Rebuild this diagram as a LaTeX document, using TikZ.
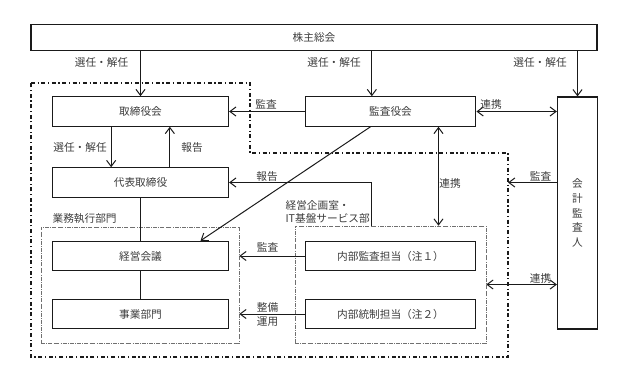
\documentclass[tikz,border=0pt]{standalone}
\usepackage{fontspec}
\setmainfont{Noto Sans CJK JP}
\usepackage{xcolor}
\definecolor{ink}{HTML}{1A1A1A}
\definecolor{grpgray}{HTML}{707070}
\usepackage{tikz}
\usetikzlibrary{arrows.meta,positioning}
\tikzset{>={Straight Barb[length=1.6mm,width=2.4mm]},
  box/.style={draw=ink,line width=0.9pt,minimum width=132pt,minimum height=22pt,inner sep=0pt,
    font=\fontsize{8}{10}\selectfont,text=ink!85},
  rbox/.style={box,minimum width=128pt},
  grp/.style={draw=grpgray,thin,densely dash dot,inner sep=0pt},
  outer/.style={draw=ink,thick,dash dot},
  flow/.style={->,line width=0.75pt,ink},
  link/.style={<->,line width=0.75pt,ink},
  lbl/.style={font=\fontsize{8}{10}\selectfont,text=ink!85,inner sep=1pt,align=left}}
\begin{document}
\begin{tikzpicture}[x=0.75pt,y=-0.75pt]
  \useasboundingbox (0,0) rectangle (620,375);
  % boxes
  \node[box,minimum width=424.5pt,minimum height=19.5pt] (kabu) at (314,37.5) {株主総会};
  \node[box] (tori) at (140.5,111.5) {取締役会};
  \node[rbox] (kansa) at (390.5,111.5) {監査役会};
  \node[box] (daihyo) at (140.5,182.5) {代表取締役};
  \node[box] (keiei) at (140.5,256) {経営会議};
  \node[box] (jigyo) at (140.5,314) {事業部門};
  \node[rbox] (naibu) at (390.5,256) {内部監査担当（注１）};
  \node[rbox] (tosei) at (390.5,314) {内部統制担当（注２）};
  \node[box,minimum width=30pt,minimum height=174pt,align=center,
    font=\fontsize{8}{11}\selectfont] (kaikei) at (577.5,213) {会\\計\\監\\査\\人};
  % groups
  \node[grp,minimum width=148.5pt,minimum height=87pt] (exec) at (140,285) {};
  \node[grp,minimum width=143.25pt,minimum height=87.75pt] (plan) at (390.5,284.5) {};
  \draw[outer] (31,83) -- (250,83) -- (250,153) -- (508,153) -- (508,357) -- (31,357) -- cycle;
  \coordinate (outerR) at (508,182.5);
  \node[lbl,anchor=west] at (51,219) {業務執行部門};
  \node[lbl,anchor=west] at (284,212) {経営企画室・\\IT基盤サービス部};
  % connectors
  \draw[flow] (kabu.south -| tori.north) -- (tori.north);
  \draw[flow] ([xshift=-14pt]kansa.north |- kabu.south) -- ([xshift=-14pt]kansa.north);
  \draw[flow] (kabu.south -| kaikei.north) -- (kaikei.north);
  \draw[flow] (kansa.west) -- (tori.east);
  \draw[link] (kansa.east) -- (kaikei.west |- kansa.east);
  \draw[flow] ([xshift=-22pt]tori.south) -- ([xshift=-22pt]daihyo.north);
  \draw[flow] ([xshift=22pt]daihyo.north) -- ([xshift=22pt]tori.south);
  \draw[line width=0.75pt,ink] (daihyo.south) -- (keiei.north);
  \draw[line width=0.75pt,ink] (keiei.south) -- (jigyo.north);
  \draw[flow] ([xshift=-15pt]kansa.south) -- ([xshift=45pt]keiei.north);
  \draw[link] ([xshift=36pt]kansa.south) -- ([xshift=36pt]kansa.south |- plan.north);
  \draw[flow] ([xshift=-14pt]plan.north) |- (daihyo.east);
  \draw[flow] (kaikei.west |- outerR) -- (outerR);
  \draw[link] (plan.east) -- (kaikei.west |- plan.east);
  \draw[flow] (naibu.west) -- (exec.east |- naibu.west);
  \draw[flow] (tosei.west) -- (exec.east |- tosei.west);
  % labels
  \node[lbl] at (101.5,62) {選任・解任};
  \node[lbl] at (334,62) {選任・解任};
  \node[lbl] at (540,62) {選任・解任};
  \node[lbl] at (266,104) {監査};
  \node[lbl] at (491,104) {連携};
  \node[lbl] at (80,147) {選任・解任};
  \node[lbl] at (192,147) {報告};
  \node[lbl] at (267,176) {報告};
  \node[lbl] at (450,183) {連携};
  \node[lbl] at (540.5,176) {監査};
  \node[lbl] at (267.5,247) {監査};
  \node[lbl] at (267.5,314.5) {整備\\運用};
  \node[lbl] at (540.5,278) {連携};
\end{tikzpicture}
\end{document}
